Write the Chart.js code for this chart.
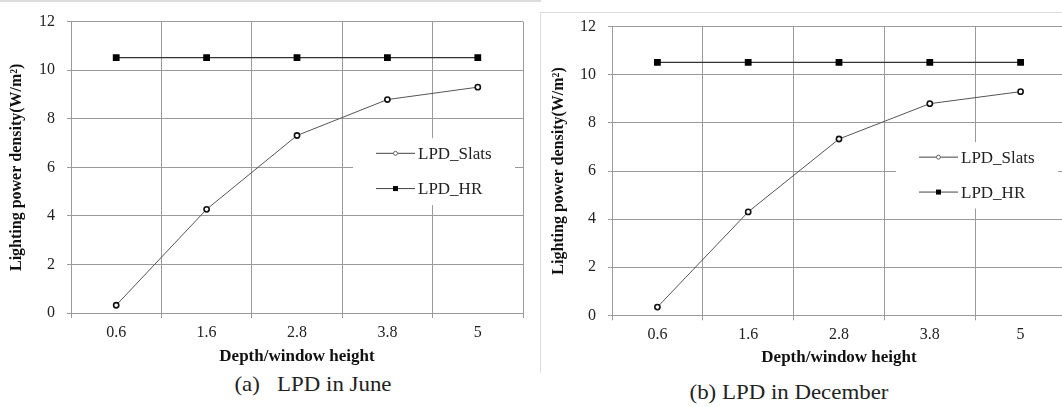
<!DOCTYPE html>
<html>
<head>
<meta charset="utf-8">
<title>LPD charts</title>
<script src="https://cdn.jsdelivr.net/npm/chart.js@4.4.1/dist/chart.umd.min.js"></script>
<style>
  body { margin: 0; width: 1062px; height: 407px; overflow: hidden; background: #fff; position: relative; font-family: "Liberation Serif", "Times New Roman", serif; }
  .wrap { position: absolute; top: 0; }
  #wrapA { left: 0; }
  #wrapB { left: 530px; }
  .caption { position: absolute; font-size: 21px; color: #222; white-space: pre; transform: translateX(-50%) scaleX(1.09); }
  #lineTop { position: absolute; left: 0; top: 0; width: 541px; height: 2px; background: #ddd; }
  #boxB { position: absolute; left: 540px; top: 12px; width: 530px; height: 360px; border-left: 1px solid #ddd; border-top: 1px solid #ddd; }
</style>
</head>
<body>
<div id="lineTop"></div>
<div id="boxB"></div>
<div class="wrap" id="wrapA"><canvas id="chartJune" width="530" height="372"></canvas></div>
<div class="wrap" id="wrapB"><canvas id="chartDec" width="545" height="372"></canvas></div>
<div class="caption" style="left:313px; top:372px;">(a)   LPD in June</div>
<div class="caption" style="left:789px; top:380px;">(b) LPD in December</div>

<script>
// data
const categories = ["0.6", "1.6", "2.8", "3.8", "5"];
const juneSlats = [0.32, 4.27, 7.31, 8.79, 9.3];
const juneHR = [10.52, 10.52, 10.52, 10.52, 10.52];
const decSlats = [0.34, 4.3, 7.33, 8.8, 9.3];
const decHR = [10.52, 10.52, 10.52, 10.52, 10.52];
const yTicks = [0, 2, 4, 6, 8, 10, 12];

const serif = "'Liberation Serif', 'Times New Roman', serif";
const gridGray = "#9a9a9a";

// legend drawn inside the plot, on a white patch over the grid
const insideLegend = {
    id: "insideLegend",
    beforeDatasetsDraw(chart) {
        const ctx = chart.ctx;
        const a = chart.chartArea;
        const h = a.bottom - a.top;
        ctx.save();
        ctx.fillStyle = "#fff";
        ctx.fillRect(a.right - 170, a.top + 0.4 * h, 162, 0.23 * h);
        chart.data.datasets.forEach((ds, i) => {
            const y = a.top + (i === 0 ? 0.452 : 0.573) * h;
            const x0 = a.right - 147;
            ctx.strokeStyle = "#444";
            ctx.lineWidth = 1;
            ctx.beginPath();
            ctx.moveTo(x0, y);
            ctx.lineTo(x0 + 39, y);
            ctx.stroke();
            if (ds.pointStyle === "rect") {
                ctx.fillStyle = "#000";
                ctx.fillRect(x0 + 17, y - 2.5, 5, 5);
            } else {
                ctx.fillStyle = "#fff";
                ctx.beginPath();
                ctx.arc(x0 + 19.5, y, 2, 0, Math.PI * 2);
                ctx.fill();
                ctx.strokeStyle = "#666";
                ctx.stroke();
            }
            ctx.fillStyle = "#222";
            ctx.font = "17px " + serif;
            ctx.textBaseline = "middle";
            ctx.fillText(ds.label, x0 + 42, y + 1);
        });
        ctx.restore();
    }
};

function buildChart(id, slats, hr, box) {
    return new Chart(document.getElementById(id), {
        type: "line",
        data: {
            labels: categories,
            datasets: [
                {
                    label: "LPD_Slats",
                    data: slats,
                    borderColor: "#555",
                    borderWidth: 1,
                    pointStyle: "circle",
                    pointRadius: 2.6,
                    pointBackgroundColor: "#fff",
                    pointBorderColor: "#111",
                    pointBorderWidth: 1.6,
                    tension: 0
                },
                {
                    label: "LPD_HR",
                    data: hr,
                    borderColor: "#333",
                    borderWidth: 1.2,
                    pointStyle: "rect",
                    pointRadius: 4.8,
                    pointBackgroundColor: "#000",
                    pointBorderColor: "#000",
                    pointBorderWidth: 0,
                    tension: 0
                }
            ]
        },
        options: {
            responsive: false,
            animation: false,
            layout: { padding: { left: 0, right: box.padRight, top: box.padTop, bottom: 0 } },
            plugins: { legend: { display: false }, tooltip: { enabled: false } },
            scales: {
                x: {
                    offset: true,
                    grid: { offset: true, color: gridGray, lineWidth: 1, tickLength: 5 },
                    border: { color: gridGray },
                    ticks: { font: { family: serif, size: 16 }, color: "#222", padding: 5, maxRotation: 0 },
                    title: {
                        display: true,
                        text: "Depth/window height",
                        font: { family: serif, size: 17, weight: "bold" },
                        color: "#111",
                        padding: { top: 0, bottom: box.xTitlePad }
                    },
                    afterFit: s => { s.height = box.xHeight; }
                },
                y: {
                    min: 0,
                    max: 12,
                    afterBuildTicks: s => { s.ticks = yTicks.map(v => ({ value: v })); },
                    grid: { color: gridGray, lineWidth: 1, tickLength: 4 },
                    border: { color: gridGray },
                    ticks: { font: { family: serif, size: 16 }, color: "#222", padding: 12 },
                    title: {
                        display: true,
                        text: "Lighting power density(W/m²)",
                        font: { family: serif, size: 16, weight: "bold" },
                        color: "#111",
                        padding: { top: box.yTitlePad, bottom: 0 }
                    },
                    afterFit: s => { s.width = box.yWidth; }
                }
            }
        },
        plugins: [insideLegend]
    });
}

buildChart("chartJune", juneSlats, juneHR, { padRight: 7, padTop: 15.5, xHeight: 59, yWidth: 71, xTitlePad: 5, yTitlePad: 7 });
buildChart("chartDec", decSlats, decHR, { padRight: 9, padTop: 26.7, xHeight: 56.7, yWidth: 82, xTitlePad: 4, yTitlePad: 19 });
</script>
</body>
</html>
